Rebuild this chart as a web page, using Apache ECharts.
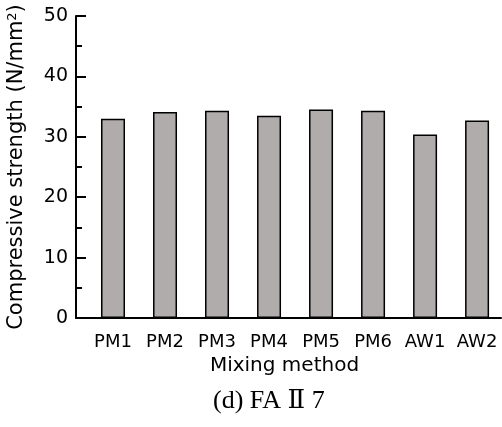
<!DOCTYPE html>
<html>
<head>
<meta charset="utf-8">
<script src="https://cdn.jsdelivr.net/npm/echarts@6/dist/echarts.min.js"></script>
<style>html,body{margin:0;padding:0;background:#fff}#c{width:502px;height:427px}</style>
</head>
<body>
<div id="c"></div>
<script>
var categories = ['PM1', 'PM2', 'PM3', 'PM4', 'PM5', 'PM6', 'AW1', 'AW2'];
var strength = [33.0, 34.1, 34.3, 33.5, 34.5, 34.3, 30.4, 32.7];
var yTicks = [0, 10, 20, 30, 40, 50];
var xTitle = 'Mixing method';
var yTitle = 'Compressive strength (N/mm{sup|2})';
var caption = '(d) FA \u2161 7';

var chart = echarts.init(document.getElementById('c'), null, {renderer: 'canvas'});
var idx = categories.map(function (c, i) { return i; });
var barData = strength.map(function (v, i) { return [i, v]; });
var sans = 'DejaVu Sans';
chart.setOption({
  animation: false,
  backgroundColor: '#ffffff',
  grid: {left: 76, right: 1, top: 16, bottom: 109, containLabel: false, outerBoundsMode: 'none'},
  xAxis: {
    type: 'value',
    min: -0.7115,
    max: 7.46,
    splitLine: {show: false},
    axisLine: {show: true, onZero: false, lineStyle: {color: '#000', width: 2}},
    axisTick: {show: false},
    axisLabel: {
      customValues: idx,
      formatter: function (v) { return categories[Math.round(v)] || ''; },
      color: '#000', fontFamily: sans, fontSize: 18, margin: 15
    },
    name: xTitle,
    nameLocation: 'middle',
    nameGap: 37,
    nameTextStyle: {color: '#000', fontFamily: sans, fontSize: 20, padding: [0, 8, 0, 0]}
  },
  yAxis: {
    type: 'value',
    min: yTicks[0],
    max: yTicks[yTicks.length - 1],
    interval: 10,
    splitLine: {show: false},
    axisLine: {show: true, onZero: false, lineStyle: {color: '#000', width: 2}},
    axisTick: {show: true, inside: true, length: 10, lineStyle: {color: '#000', width: 2}},
    minorTick: {show: true, splitNumber: 2, length: 6, lineStyle: {color: '#000', width: 2}},
    axisLabel: {color: '#000', fontFamily: sans, fontSize: 19, margin: 8},
    name: yTitle,
    nameLocation: 'middle',
    nameGap: 48,
    nameRotate: 90,
    nameTextStyle: {
      color: '#000', fontFamily: sans, fontSize: 21,
      rich: {sup: {fontSize: 13, verticalAlign: 'top', padding: [0, 0, 9, 0], color: '#000', fontFamily: sans}}
    }
  },
  series: [{
    type: 'bar',
    data: barData,
    barWidth: 24,
    itemStyle: {color: '#b0acab', borderColor: '#000', borderWidth: 1.5}
  }],
  graphic: [{
    type: 'text',
    left: 213,
    top: 388,
    style: {text: caption, font: '26px "Liberation Serif", "DejaVu Serif", serif', fill: '#000'}
  }]
});
</script>
</body>
</html>
